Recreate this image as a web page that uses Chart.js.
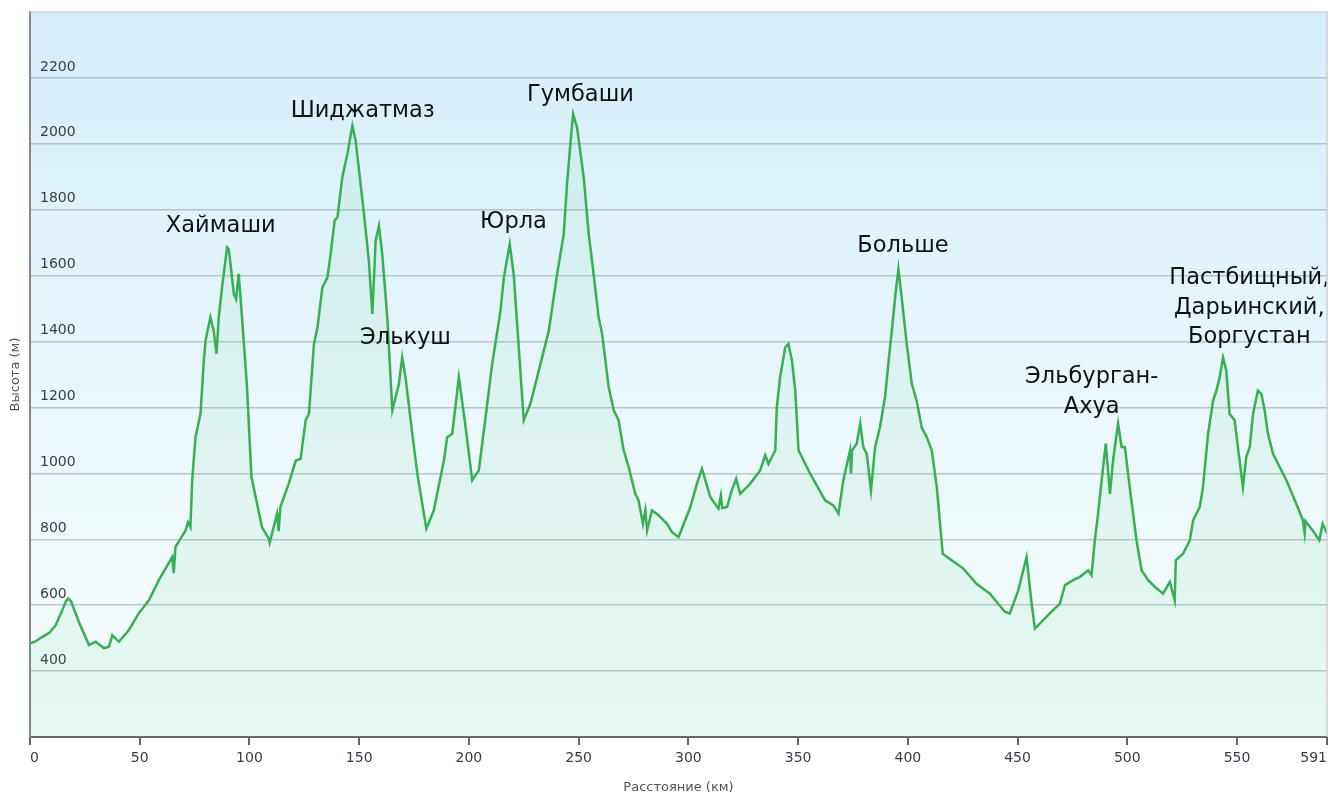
<!DOCTYPE html>
<html>
<head>
<meta charset="utf-8">
<script src="https://cdn.jsdelivr.net/npm/chart.js@4/dist/chart.umd.min.js"></script>
<style>
  html, body { margin: 0; padding: 0; background: #fff; }
  #wrap { width: 1331px; height: 796px; position: relative; }
</style>
</head>
<body>
<div id="wrap"><canvas id="profile"></canvas></div>
<script>
// distance along route, km
const distKm = [
  0, 2.5, 5.6, 8.6, 11.7, 14.7, 16.4, 17.4, 18.7, 22.5, 26.9, 29.9, 33.7, 36, 37.5, 40.5, 45, 49.6,
  54.2, 58.7, 64.8, 65.5, 66.3, 70.9, 72, 73.1, 73.9, 75.4, 77.7, 79.2, 80, 82.2, 83.7, 85, 86,
  87.5, 89.8, 90.6, 92.9, 93.9, 95.1, 96.6, 98.9, 100.9, 105.7, 108.8, 109.2, 112.6, 113.3, 114.1,
  117.9, 121.1, 123.3, 125.6, 127.1, 129.4, 131, 133.2, 135.5, 137, 138.8, 140.1, 142.3, 144.6,
  146.9, 148.4, 152.2, 154.4, 156, 157.5, 159, 160.5, 162.8, 165.1, 166.6, 168.1, 169.6, 171.1,
  174.2, 176.5, 180.6, 184, 188.6, 190.1, 192.4, 195.4, 198.5, 201.5, 204.5, 207.6, 210.6, 214.4,
  215.9, 218.6, 220.4, 225, 228, 231.1, 236.4, 240.2, 243.2, 244.7, 246.6, 247.5, 249.3, 252.3,
  254.6, 256.1, 259.1, 260.7, 263.7, 266, 268.2, 270.5, 272.8, 275.8, 277.3, 279.3, 280.4, 281.2,
  283.4, 286.4, 290.3, 292.5, 295.5, 300.9, 303.9, 306.2, 310, 313.7, 314.8, 315.4, 317.6, 319.8,
  321.8, 323.6, 328.2, 332.7, 335, 336.5, 339.6, 340.3, 341.8, 344.1, 345.6, 347.2, 348.7, 350.2,
  355.5, 362.3, 366.1, 368.4, 370.6, 373.7, 374.1, 374.6, 376.7, 378.3, 379.7, 381.3, 383.2, 385.1,
  387.3, 389.6, 391.1, 392.7, 394.2, 395.7, 397.2, 399.5, 401.8, 404, 406.3, 408.6, 410.9, 413.2,
  415.9, 420, 425.3, 431.3, 437.4, 444.2, 446.5, 450.3, 454.1, 456.4, 457.9, 458.7, 461.7, 464.7,
  469.3, 471.6, 475.3, 478.4, 482.2, 483.7, 485.2, 486.7, 488.3, 490.2, 492.1, 493.5, 495.8, 497.4,
  498.9, 501.1, 504.2, 506.5, 509.5, 512.5, 516.3, 519.4, 521.6, 522.1, 525.4, 528.5, 530, 533,
  534.5, 536.8, 539.1, 540.6, 542.1, 543.6, 545.1, 546.6, 548.9, 550.4, 552.7, 554.2, 555.8, 557.3,
  559.5, 561.1, 562.6, 564.1, 566.4, 572.5, 577, 580, 580.8, 581.2, 584.5, 587.5, 589, 591
];
// elevation, m
const elevM = [
  484, 490, 504, 515, 539, 585, 612, 620, 612, 545, 479, 489, 470, 474, 509, 489, 524, 576,
  615, 676, 746, 697, 777, 827, 852, 837, 979, 1110, 1181, 1342, 1403, 1474, 1433, 1363, 1474,
  1564, 1686, 1680, 1544, 1529, 1605, 1474, 1261, 989, 837, 802, 790, 878, 825, 898,
  969, 1039, 1044, 1161, 1181, 1393, 1443, 1564, 1594, 1666, 1767, 1777, 1898, 1969,
  2055, 2009, 1787, 1645, 1484, 1706, 1751, 1666, 1474, 1191, 1231, 1272, 1352, 1292,
  1120, 999, 832, 888, 1039, 1110, 1120, 1292, 1140, 979, 1009, 1171, 1332, 1494,
  1594, 1696, 1605, 1161, 1211, 1292, 1433, 1605, 1726, 1878, 2029, 2090, 2049, 1898,
  1726, 1645, 1474, 1423, 1261, 1191, 1161, 1070, 1019, 938, 918, 847, 888, 827,
  888, 873, 847, 822, 806, 898, 969, 1014, 928, 893, 933, 895, 898, 949,
  984, 938, 969, 1009, 1055, 1029, 1070, 1201, 1292, 1382, 1393, 1342, 1251, 1070,
  999, 918, 903, 878, 979, 1070, 1000, 1070, 1090, 1151, 1080, 1059, 948, 1080,
  1140, 1231, 1332, 1433, 1534, 1620, 1534, 1393, 1272, 1221, 1140, 1110, 1070, 958,
  756, 736, 711, 665, 635, 580, 575, 645, 746, 605, 529, 534, 555, 575,
  605, 661, 676, 686, 706, 691, 797, 878, 979, 1090, 938, 1039, 1151, 1080,
  1080, 958, 797, 706, 676, 656, 635, 671, 615, 736, 756, 797, 858, 898,
  958, 1120, 1221, 1251, 1292, 1352, 1312, 1181, 1161, 1080, 958, 1049, 1080, 1181,
  1251, 1241, 1191, 1120, 1059, 979, 908, 858, 818, 855, 827, 797, 847, 818
];

const xTicks = [0, 50, 100, 150, 200, 250, 300, 350, 400, 450, 500, 550, 591];
const yTicks = [400, 600, 800, 1000, 1200, 1400, 1600, 1800, 2000, 2200];

// place names over the peaks (lines, km, elevation of first line)
const placeLines = [
  ['Хаймаши'], ['Шиджатмаз'], ['Элькуш'], ['Юрла'], ['Гумбаши'], ['Больше'],
  ['Эльбурган-', 'Ахуа'], ['Пастбищный,', 'Дарьинский,', 'Боргустан']
];
const placeKm = [86.9, 151.6, 171.1, 220.3, 250.8, 397.8, 483.8, 555.6];
const placeElev = [1751, 2100, 1409, 1761, 2148, 1688, 1291, 1591];

const FONT = '"DejaVu Sans", Verdana, sans-serif';

const backdrop = {
  id: 'backdrop',
  beforeDraw(chart) {
    const {ctx, chartArea: a} = chart;
    const g = ctx.createLinearGradient(0, a.top, 0, a.bottom);
    g.addColorStop(0, '#d3eef9');
    g.addColorStop(0.55, '#ebf7fc');
    g.addColorStop(1, '#f5fcfc');
    ctx.save();
    ctx.fillStyle = g;
    ctx.fillRect(a.left, a.top, a.right - a.left, a.bottom - a.top);
    ctx.restore();
  },
  afterDraw(chart) {
    const {ctx, chartArea: a} = chart;
    ctx.save();
    ctx.strokeStyle = '#c9cfd2';
    ctx.lineWidth = 1.5;
    ctx.beginPath();
    ctx.moveTo(a.left, a.top);
    ctx.lineTo(a.right, a.top);
    ctx.lineTo(a.right, a.bottom);
    ctx.stroke();
    ctx.restore();
  }
};

const placeLabels = {
  id: 'placeLabels',
  afterDatasetsDraw(chart) {
    const {ctx, scales: {x, y}} = chart;
    ctx.save();
    ctx.font = '22.5px ' + FONT;
    ctx.fillStyle = '#111';
    ctx.textAlign = 'center';
    ctx.textBaseline = 'middle';
    placeLines.forEach((lines, i) => {
      const px = x.getPixelForValue(placeKm[i]);
      const py = y.getPixelForValue(placeElev[i]);
      lines.forEach((t, j) => ctx.fillText(t, px, py + j * 29.5));
    });
    ctx.restore();
  }
};

new Chart(document.getElementById('profile'), {
  type: 'line',
  data: {
    datasets: [{
      data: distKm.map((d, i) => ({x: d, y: elevM[i]})),
      borderColor: '#36b052',
      borderWidth: 2.5,
      backgroundColor: 'rgba(60, 200, 110, 0.075)',
      fill: 'origin',
      pointRadius: 0,
      tension: 0
    }]
  },
  options: {
    responsive: true,
    maintainAspectRatio: false,
    animation: false,
    layout: { padding: { top: 12, right: 4, left: 0, bottom: 0 } },
    plugins: { legend: { display: false }, tooltip: { enabled: false } },
    scales: {
      x: {
        type: 'linear',
        min: 0,
        max: 591,
        afterBuildTicks: axis => { axis.ticks = xTicks.map(v => ({value: v})); },
        afterFit: axis => { axis.height = 59; axis.paddingLeft = 0; axis.paddingRight = 0; },
        ticks: {
          align: 'inner',
          maxRotation: 0,
          autoSkip: false,
          padding: 5,
          color: '#3a3a4a',
          font: { family: FONT, size: 14 },
          callback: v => String(v)
        },
        grid: { drawOnChartArea: false, tickLength: 8, color: '#666', lineWidth: 2 },
        border: { display: true, color: '#666', width: 2 },
        title: {
          display: true,
          text: 'Расстояние (км)',
          color: '#555',
          font: { family: FONT, size: 13 },
          padding: { top: 0, bottom: 1 }
        }
      },
      y: {
        min: 200,
        max: 2400,
        afterBuildTicks: axis => { axis.ticks = yTicks.map(v => ({value: v})); },
        afterFit: axis => { axis.width = 30; axis.paddingTop = 0; axis.paddingBottom = 0; },
        ticks: {
          mirror: true,
          padding: 10,
          labelOffset: -11,
          color: '#3a3a4a',
          font: { family: FONT, size: 14 },
          callback: v => String(v)
        },
        grid: { drawTicks: false, color: 'rgba(140, 150, 155, 0.5)', lineWidth: 1.5 },
        border: { display: true, color: '#888', width: 2 },
        title: {
          display: true,
          text: 'Высота (м)',
          color: '#555',
          font: { family: FONT, size: 13 },
          padding: { top: 8, bottom: 0 }
        }
      }
    }
  },
  plugins: [backdrop, placeLabels]
});
</script>
</body>
</html>
